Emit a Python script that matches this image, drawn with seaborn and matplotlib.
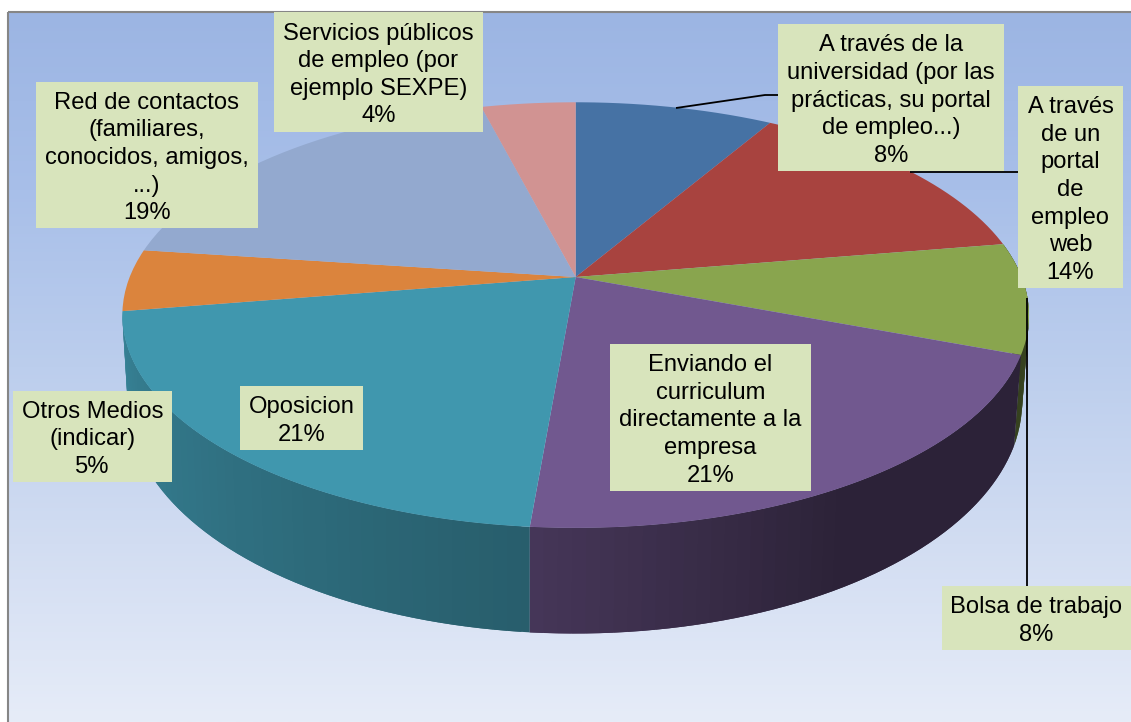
import numpy as np
import matplotlib
matplotlib.use("Agg")
import matplotlib.pyplot as plt
import seaborn as sns
from matplotlib.collections import PolyCollection
from matplotlib.colors import LinearSegmentedColormap
from matplotlib.patches import Rectangle
from matplotlib.path import Path
from matplotlib.transforms import Transform

# values, labels
categories = [
    "A través de la\nuniversidad (por las\nprácticas, su portal\nde empleo...)",
    "A través\nde un\nportal\nde\nempleo\nweb",
    "Bolsa de trabajo",
    "Enviando el\ncurriculum\ndirectamente a la\nempresa",
    "Oposicion",
    "Otros Medios\n(indicar)",
    "Red de contactos\n(familiares,\nconocidos, amigos,\n...)",
    "Servicios públicos\nde empleo (por\nejemplo SEXPE)",
]
shares = [8.4, 14.0, 8.4, 20.6, 21.1, 4.7, 18.9, 4.0]

slice_colors = ["#4672A4", "#A8433F", "#89A54E", "#71588F",
                "#4097AE", "#DB843D", "#93A9CF", "#D19392"]

# only these slices show their side wall
front_slices = [2, 3, 4]

# label boxes in pixels: left, right, top, bottom
label_boxes = [
    (778, 1004, 24, 171),
    (1018, 1123, 86, 288),
    (942, 1131, 586, 650),
    (610, 811, 344, 491),
    (240, 363, 386, 450),
    (13, 172, 391, 482),
    (36, 258, 82, 228),
    (274, 483, 12, 132),
]
leaders = [
    ([676, 765, 778], [108, 95, 95]),
    ([910, 1018], [172, 172]),
    ([1027, 1027], [298, 586]),
]


class Perspective(Transform):
    # unit circle -> tilted disc in pixel coordinates
    input_dims = 2
    output_dims = 2

    def __init__(self, cx, cy, a, b, k):
        super().__init__()
        self.cx, self.cy, self.a, self.b, self.k = cx, cy, a, b, k

    def transform_non_affine(self, values):
        values = np.asarray(values)
        w = 1 + self.k * values[:, 1]
        return np.column_stack([self.cx + self.a * values[:, 0] / w,
                                self.cy - self.b * values[:, 1] / w])

    def transform_path_non_affine(self, path):
        # flatten the arcs first, the projection does not keep beziers
        big = Path(path.vertices * 1000, path.codes)
        poly = big.to_polygons(closed_only=True)[0] / 1000
        return Path(self.transform_non_affine(poly))


top_disc = Perspective(575.7, 277, 446, 206, 0.179)
bottom_disc = Perspective(575, 360, 440, 224.6, 0.179)

sns.set_theme(style="white")
plt.rcParams["font.family"] = ["Liberation Sans", "DejaVu Sans"]

fig, ax = plt.subplots(figsize=(11.31, 7.22), dpi=100)
fig.subplots_adjust(0, 0, 1, 1)

# background gradient
back = LinearSegmentedColormap.from_list(
    "back", ["#9CB5E3", "#A8BFE9", "#BCCEED", "#D2DDF2", "#E6ECF8"])
ax.imshow(np.linspace(0, 1, 256)[:, None], cmap=back, aspect="auto",
          extent=(8, 1131, 722, 12), zorder=0)

wedges, _ = ax.pie(shares, colors=sns.color_palette(slice_colors), startangle=90,
                   counterclock=False, radius=1, frame=False)
for wedge in wedges:
    wedge.set_transform(top_disc + ax.transData)
    wedge.set_edgecolor("none")
    wedge.set_zorder(3)

# side wall, small quads so the shading can change along the rim
# each quad runs under the next one, that way no seams show
quads, quad_colors = [], []
for idx in front_slices:
    wedge, color = wedges[idx], sns.color_palette(slice_colors)[idx]
    angles = np.arange(wedge.theta1, wedge.theta2 + 1.5, 1.5)
    angles[-1] = wedge.theta2
    rim = np.column_stack([np.cos(np.radians(angles)), np.sin(np.radians(angles))])
    upper = top_disc.transform_non_affine(rim)
    lower = bottom_disc.transform_non_affine(rim)
    for i in range(len(angles) - 1)[::-1]:
        clock = (90 - 0.5 * (angles[i] + angles[i + 1])) % 360
        far = max(i - 1, 0)
        quads.append([upper[far], upper[i + 1], lower[i + 1], lower[far]])
        shade = np.interp(clock, [90, 111, 150, 185, 261],
                          [0.45, 0.39, 0.39, 0.62, 0.87])
        quad_colors.append(tuple(np.array(color) * shade))
ax.add_collection(PolyCollection(quads, facecolors=quad_colors, edgecolors="none",
                                 zorder=2))

# frame of the chart area
ax.plot([8, 8], [12, 722], color="#868686", lw=1.5, zorder=1, solid_capstyle="butt")
ax.plot([8, 1131], [12, 12], color="#868686", lw=1.5, zorder=1, solid_capstyle="butt")

for xs, ys in leaders:
    ax.plot(xs, ys, color="black", lw=1.3, zorder=4, solid_capstyle="butt")

for name, share, (left, right, top, bottom) in zip(categories, shares, label_boxes):
    ax.add_patch(Rectangle((left, top), right - left, bottom - top,
                           facecolor="#D8E4BC", edgecolor="none", zorder=5))
    ax.text((left + right) / 2, (top + bottom) / 2 + 3, f"{name}\n{round(share)}%",
            ha="center", va="center", fontsize=17.1, color="black",
            linespacing=1.33, zorder=6)

ax.set_aspect("auto")
ax.set_xlim(0, 1131)
ax.set_ylim(722, 0)
ax.set_axis_off()

fig.savefig("out.png", dpi=100, facecolor="white")
